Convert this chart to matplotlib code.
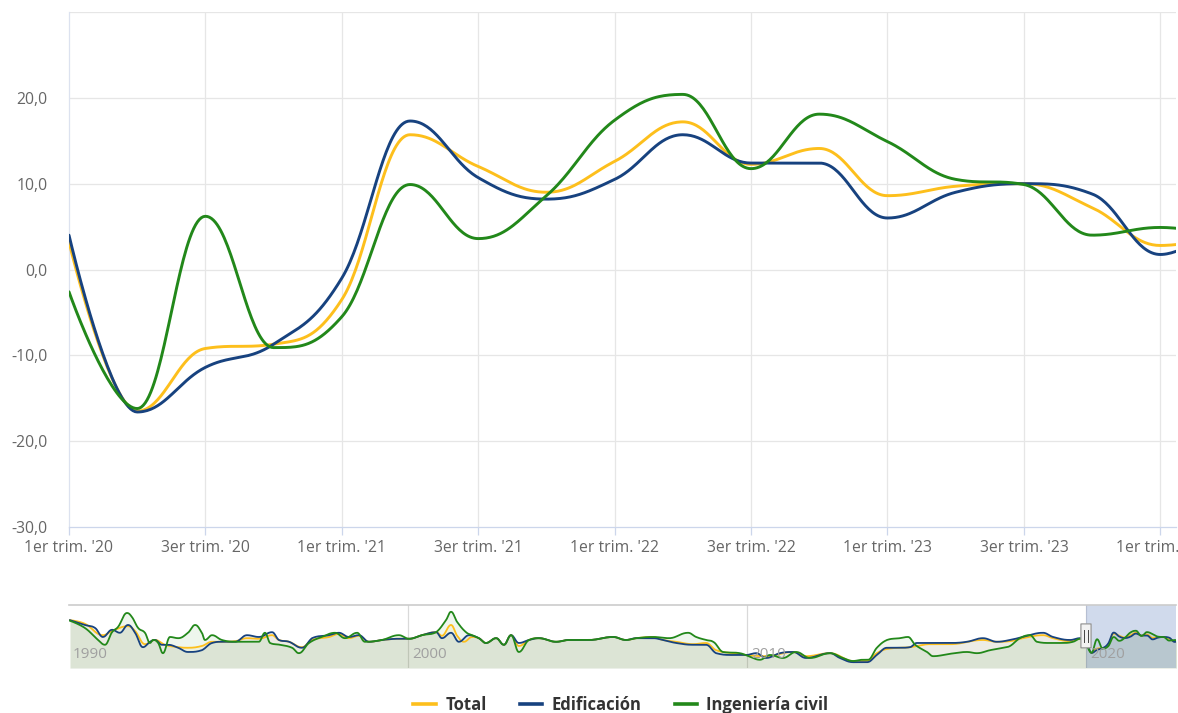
import numpy as np
import matplotlib
matplotlib.use('Agg')
import matplotlib.pyplot as plt
import matplotlib.transforms as mtransforms
from matplotlib.patches import Rectangle, FancyBboxPatch
from matplotlib.lines import Line2D

plt.rcParams['font.family'] = ['Open Sans', 'DejaVu Sans']

# ---------------- main chart data (quarterly, 1er trim. '20 ... 2º trim. '24) ----------------
series_names = ["Total", "Edificación", "Ingeniería civil"]
total = [3.2, -16.5, -9.2, -8.7, -3.5, 15.7, 12.0, 9.0, 12.6, 17.2, 12.25, 14.1, 8.6, 9.7, 10.0, 7.2, 2.8, 4.0]
edificacion = [4.0, -16.6, -11.4, -8.7, -1.0, 17.3, 10.7, 8.2, 10.5, 15.7, 12.4, 12.4, 6.0, 9.0, 10.0, 8.8, 1.75, 6.0]
ingenieria = [-2.6, -16.2, 6.2, -9.1, -5.5, 9.9, 3.6, 8.6, 17.4, 20.4, 11.75, 18.1, 14.9, 10.5, 9.9, 4.0, 4.9, 3.8]
x_tick_labels = ["1er trim. '20", "3er trim. '20", "1er trim. '21", "3er trim. '21", "1er trim. '22",
                 "3er trim. '22", "1er trim. '23", "3er trim. '23", "1er trim. '24"]
y_ticks = [-30, -20, -10, 0, 10, 20]

# ---------------- navigator data (history before 2020) ----------------
nav_years_total = [1990.03, 1990.47, 1991.00, 1991.27, 1991.74, 1991.95, 1992.24, 1992.54, 1992.83, 1993.22,
                   1993.51, 1993.92, 1994.22, 1994.51, 1994.90, 1995.25, 1995.60, 1995.99, 1996.19, 1996.49,
                   1996.87, 1997.17, 1997.67, 1997.96, 1998.26, 1998.55, 1998.85, 1999.23, 1999.73, 2000.03,
                   2000.41, 2000.83, 2001.00, 2001.27, 2001.45, 2001.65, 2001.89, 2002.09, 2002.30, 2002.60,
                   2002.83, 2003.04, 2003.27, 2003.57, 2003.86, 2004.37, 2004.75, 2005.34, 2006.05, 2006.43,
                   2006.73, 2007.23, 2007.52, 2007.91, 2008.41, 2008.79, 2009.09, 2009.59, 2009.97, 2010.56,
                   2011.36, 2011.74, 2012.45, 2013.13, 2013.33, 2013.54, 2013.83, 2014.13, 2014.81, 2015.40,
                   2015.99, 2016.96, 2017.37, 2017.76, 2018.14, 2018.73, 2019.03, 2019.53, 2019.82]
nav_total = [38, 32, 13, 20, 28, 20, -2, 5, -3, -7, -8, -5, 2, 2, 3, 8, 7, 13, 5, 2,
             -7, 5, 10, 15, 8, 12, 2, 5, 7, 7, 13, 18, 12, 30, 12, 2, 10, 8, 0, 8,
             -3, 13, -5, 5, 8, 2, 5, 5, 10, 5, 8, 10, 5, 2, -2, 0, -12, -17, -20, -22,
             -15, -22, -17, -30, -30, -30, -17, -10, -7, -2, -2, 5, 2, 3, 8, 13, 8, 3, 7]

nav_years_edif = [1990.03, 1990.47, 1990.77, 1991.00, 1991.27, 1991.50, 1991.74, 1991.95, 1992.18, 1992.39,
                  1992.54, 1992.74, 1992.92, 1993.22, 1993.51, 1993.92, 1994.22, 1994.51, 1994.90, 1995.25,
                  1995.60, 1995.99, 1996.19, 1996.49, 1996.87, 1997.17, 1997.67, 1997.96, 1998.26, 1998.55,
                  1998.85, 1999.23, 1999.73, 2000.03, 2000.41, 2000.83, 2001.00, 2001.27, 2001.50, 2001.80,
                  2002.09, 2002.30, 2002.60, 2002.83, 2003.04, 2003.27, 2003.57, 2003.86, 2004.37, 2004.75,
                  2005.34, 2006.05, 2006.43, 2006.73, 2007.23, 2007.52, 2007.91, 2008.41, 2008.79, 2009.09,
                  2009.59, 2009.97, 2010.27, 2010.56, 2010.97, 2011.36, 2011.74, 2012.45, 2012.74, 2013.13,
                  2013.33, 2013.54, 2013.83, 2014.13, 2014.51, 2014.81, 2015.01, 2015.40, 2015.99, 2016.49,
                  2016.96, 2017.37, 2017.76, 2018.14, 2018.73, 2019.03, 2019.53, 2019.82]
nav_edif = [38, 30, 25, 10, 22, 17, 30, 17, -7, 2, 5, -3, -3, -8, -15, -12, 0, 2, 2, 13,
            10, 18, 5, 2, -8, 8, 13, 17, 10, 13, 2, 5, 7, 7, 13, 18, 8, 17, 2, 13,
            8, 0, 8, -3, 13, 0, 5, 8, 2, 5, 5, 10, 5, 8, 8, 5, 0, -3, -3, -17,
            -20, -20, -17, -25, -17, -15, -25, -17, -25, -32, -32, -32, -20, -8, -8, -7, 0, 0, 0, 2,
            8, 2, 5, 10, 17, 10, 5, 8]

nav_years_ing = [1990.03, 1990.47, 1990.86, 1991.06, 1991.27, 1991.45, 1991.71, 1991.86, 1992.04, 1992.24,
                 1992.39, 1992.48, 1992.63, 1992.77, 1992.98, 1993.22, 1993.51, 1993.72, 1993.92, 1994.01,
                 1994.22, 1994.51, 1994.90, 1995.25, 1995.60, 1995.78, 1995.93, 1996.22, 1996.58, 1996.78,
                 1997.08, 1997.46, 1997.85, 1998.14, 1998.50, 1998.73, 1999.23, 1999.73, 2000.03, 2000.41,
                 2000.83, 2001.12, 2001.27, 2001.45, 2001.71, 2001.89, 2002.09, 2002.30, 2002.60, 2002.83,
                 2003.04, 2003.27, 2003.57, 2003.86, 2004.37, 2004.75, 2005.34, 2006.05, 2006.43, 2006.73,
                 2007.23, 2007.70, 2008.26, 2008.50, 2008.79, 2009.00, 2009.29, 2009.79, 2010.09, 2010.38,
                 2010.68, 2011.06, 2011.45, 2011.86, 2012.45, 2012.83, 2013.13, 2013.40, 2013.57, 2013.83,
                 2014.13, 2014.51, 2014.75, 2014.96, 2015.31, 2015.49, 2015.99, 2016.49, 2016.78, 2017.17,
                 2017.55, 2017.76, 2018.05, 2018.35, 2018.55, 2018.94, 2019.32, 2019.62, 2019.82]
nav_ing = [37, 25, 5, -3, 18, 27, 50, 43, 25, 17, 0, 5, 0, -17, 10, 8, 17, 30, 17, 5,
           13, 5, 2, 2, 2, 17, 0, -3, -8, -17, 0, 10, 17, 8, 17, 2, 5, 13, 7, 13,
           18, 38, 52, 35, 18, 13, 8, 0, 8, -3, 13, -15, 5, 8, 2, 5, 5, 10, 5, 8,
           10, 8, 17, 10, 5, 2, -15, -17, -23, -28, -20, -25, -15, -25, -17, -25, -30, -28, -28, -8,
           5, 8, 10, -3, -15, -22, -18, -15, -17, -12, -8, -5, 8, 13, 2, 0, 0, 2, 7]
nav_year_labels = [1990, 2000, 2010, 2020]

# ---------------- style ----------------
C_T = '#FDBF1C'
C_E = '#17427F'
C_I = '#22881A'
W, H = 1178, 713
NAV_START = 1990.0
NAV_END = 1990 + 1107 / 33.9
NAV_Q_STEP = 0.1636     # navigator width of one quarter inside the selected window
SEL_START = 2020.0


def hc_spline(xs, ys, n=40):
    """Highcharts-like spline through points (cubic Bezier, smoothing 1.5)."""
    xs = np.asarray(xs, float)
    ys = np.asarray(ys, float)
    N = len(xs)
    sm = 1.5
    den = sm + 1
    lc = [(xs[i], ys[i]) for i in range(N)]
    rc = [(xs[i], ys[i]) for i in range(N)]
    for i in range(1, N - 1):
        px, py = xs[i], ys[i]
        lx, ly = xs[i - 1], ys[i - 1]
        nx, ny = xs[i + 1], ys[i + 1]
        lcx = (sm * px + lx) / den
        lcy = (sm * py + ly) / den
        rcx = (sm * px + nx) / den
        rcy = (sm * py + ny) / den
        if rcx != lcx:
            corr = ((rcy - lcy) * (rcx - px)) / (rcx - lcx) + py - rcy
            lcy += corr
            rcy += corr
            if lcy > ly and lcy > py:
                lcy = max(ly, py); rcy = 2 * py - lcy
            elif lcy < ly and lcy < py:
                lcy = min(ly, py); rcy = 2 * py - lcy
            if rcy > ny and rcy > py:
                rcy = max(ny, py); lcy = 2 * py - rcy
            elif rcy < ny and rcy < py:
                rcy = min(ny, py); lcy = 2 * py - rcy
        lc[i] = (lcx, lcy)
        rc[i] = (rcx, rcy)
    t = np.linspace(0, 1, n)
    X, Y = [], []
    for i in range(N - 1):
        p0 = (xs[i], ys[i]); p1 = rc[i]; p2 = lc[i + 1]; p3 = (xs[i + 1], ys[i + 1])
        b0 = (1 - t) ** 3; b1 = 3 * (1 - t) ** 2 * t; b2 = 3 * (1 - t) * t ** 2; b3 = t ** 3
        X.append(b0 * p0[0] + b1 * p1[0] + b2 * p2[0] + b3 * p3[0])
        Y.append(b0 * p0[1] + b1 * p1[1] + b2 * p2[1] + b3 * p3[1])
    return np.concatenate(X), np.concatenate(Y)


fig = plt.figure(figsize=(W / 100, H / 100), dpi=100)
fig.patch.set_facecolor('white')

# ---------------- main axes ----------------
ax = fig.add_axes([69 / W, 1 - 527 / H, (1176 - 69) / W, (527 - 12) / H])
q = np.arange(len(total))
main_series = [(total, C_T), (edificacion, C_E), (ingenieria, C_I)]
for vals, col in main_series:
    X, Y = hc_spline(q, vals)
    ax.plot(X, Y, color=col, lw=2.1, solid_capstyle='round', zorder=3)

ax.set_xlim(0, 16.23)
ax.set_ylim(-30, 30)
ax.set_yticks(y_ticks)
ax.set_yticklabels([f"{v:.1f}".replace('.', ',') for v in y_ticks])
xt = list(range(0, 2 * len(x_tick_labels), 2))
ax.set_xticks(xt)
ax.set_xticklabels(x_tick_labels)
for v in y_ticks[1:] + [30]:
    ax.axhline(v, color='#e6e6e6', lw=0.9, zorder=1)
for v in xt[1:]:
    ax.axvline(v, color='#e6e6e6', lw=0.9, zorder=1)
for s in ['top', 'right']:
    ax.spines[s].set_visible(False)
ax.spines['left'].set_color('#dce2ef')
ax.spines['left'].set_linewidth(0.9)
ax.spines['bottom'].set_color('#ccd6eb')
ax.spines['bottom'].set_linewidth(0.9)
ax.tick_params(axis='y', length=0, pad=15.5, labelsize=11.3, labelcolor='#666666')
ax.tick_params(axis='x', length=5.5, width=0.9, color='#ccd6eb', pad=4.0, labelsize=11.3,
               labelcolor='#666666')

# ---------------- navigator ----------------
axn = fig.add_axes([69 / W, 1 - 668 / H, (1176 - 69) / W, (668 - 605) / H])
axn.set_xlim(NAV_START, NAV_END)
NAV_YMIN, NAV_YMAX = -41.7, 63.3
axn.set_ylim(NAV_YMIN, NAV_YMAX)
axn.axis('off')

q_years = SEL_START + np.arange(len(total)) * NAV_Q_STEP
nav_series = [
    (np.concatenate([nav_years_total, q_years]), np.concatenate([nav_total, total]), C_T),
    (np.concatenate([nav_years_edif, q_years]), np.concatenate([nav_edif, edificacion]), C_E),
    (np.concatenate([nav_years_ing, q_years]), np.concatenate([nav_ing, ingenieria]), C_I),
]
for yrs, vals, col in nav_series:
    X, Y = hc_spline(yrs, vals, n=20)
    axn.fill_between(X, Y, NAV_YMIN, color=col, alpha=0.075, lw=0, zorder=2)
for yrs, vals, col in nav_series:
    X, Y = hc_spline(yrs, vals, n=20)
    axn.plot(X, Y, color=col, lw=1.3, zorder=4)

for yl in nav_year_labels:
    if yl > NAV_START:
        axn.axvline(yl, color='#d9d9d9', lw=0.9, zorder=1)
    axn.text(yl + 0.12, (668 - 655) / 63, str(yl), transform=mtransforms.blended_transform_factory(
        axn.transData, axn.transAxes), fontsize=11, color='#a0a0a0', va='center', ha='left', zorder=5)

axn.plot([0, 1], [1, 1], transform=axn.transAxes, color='#cccccc', lw=1.2, clip_on=False, zorder=6)

# selection mask
axn.add_patch(Rectangle((SEL_START, NAV_YMIN), NAV_END - SEL_START, NAV_YMAX - NAV_YMIN,
                        facecolor=(102 / 255, 133 / 255, 194 / 255, 0.3), edgecolor='none', zorder=3))
# handle
btr = mtransforms.blended_transform_factory(axn.transData, axn.transAxes)
axn.add_patch(FancyBboxPatch((SEL_START - 0.15, 0.32), 0.30, 0.38, boxstyle='round,pad=0,rounding_size=0.03',
                             transform=btr, facecolor='#f2f2f2', edgecolor='#999999', lw=0.9, zorder=7,
                             mutation_aspect=0.1, clip_on=False))
for dx in (-0.045, 0.045):
    axn.plot([SEL_START + dx, SEL_START + dx], [0.42, 0.60], transform=btr, color='#444444', lw=0.7,
             zorder=8, clip_on=False)

# ---------------- legend ----------------
handles = [Line2D([], [], color=c, lw=2.6) for c in (C_T, C_E, C_I)]
leg = fig.legend(handles, series_names, loc='center', bbox_to_anchor=(621 / W, 1 - 705 / H), ncol=3,
                 frameon=False, prop={'weight': 'bold', 'size': 12}, handlelength=1.35,
                 handletextpad=0.55, columnspacing=2.0)
for t in leg.get_texts():
    t.set_color('#333333')

fig.savefig('out.png', dpi=100, facecolor='white')
